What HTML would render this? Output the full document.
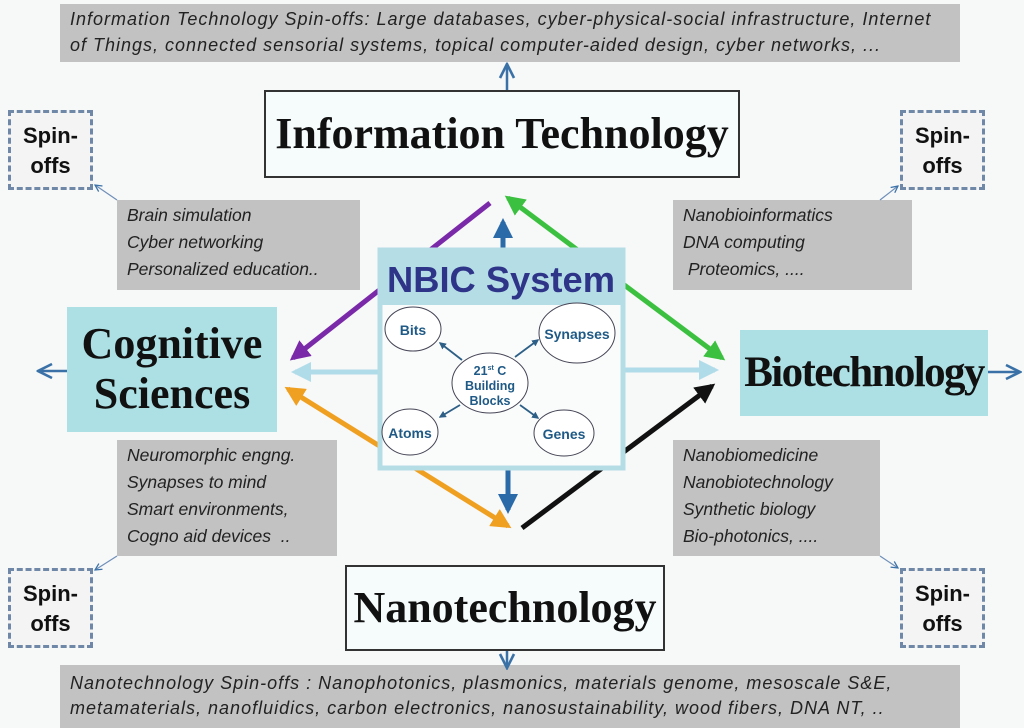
<!DOCTYPE html>
<html><head><meta charset="utf-8"><style>
body{margin:0;width:1024px;height:728px;background:#f7f8f8;position:relative;overflow:hidden;font-family:"Liberation Sans",sans-serif}
.a{position:absolute;box-sizing:border-box}
.g{background:#c2c2c2;font-style:italic;color:#222;font-size:17.5px;line-height:27px;padding:2px 10px;white-space:nowrap}
.sp{border:3px dashed #7088a8;background:#f4f4f4;font-weight:bold;font-size:22px;line-height:30px;text-align:center;padding-top:8px;color:#111}
.ser{font-family:"Liberation Serif",serif;font-weight:bold;color:#111;text-align:center;white-space:nowrap}
.c{background:#ace0e4}
</style></head><body>
<div class="a g" style="left:60px;top:4px;width:900px;height:58px;line-height:26px;font-size:18px;letter-spacing:1px">Information Technology Spin-offs: Large databases, cyber-physical-social infrastructure, Internet<br>of Things, connected sensorial systems, topical computer-aided design, cyber networks, ...</div>
<div class="a ser" style="left:264px;top:90px;width:476px;height:88px;border:2px solid #333;background:#f6fbfc;font-size:44px;line-height:84px">Information Technology</div>
<div class="a sp" style="left:8px;top:110px;width:85px;height:80px">Spin-<br>offs</div>
<div class="a sp" style="left:900px;top:110px;width:85px;height:80px">Spin-<br>offs</div>
<div class="a sp" style="left:8px;top:568px;width:85px;height:80px">Spin-<br>offs</div>
<div class="a sp" style="left:900px;top:568px;width:85px;height:80px">Spin-<br>offs</div>
<div class="a g" style="left:117px;top:200px;width:243px;height:90px">Brain simulation<br>Cyber networking<br>Personalized education..</div>
<div class="a g" style="left:673px;top:200px;width:239px;height:90px">Nanobioinformatics<br>DNA computing<br>&nbsp;Proteomics, ....</div>
<div class="a g" style="left:117px;top:440px;width:220px;height:116px">Neuromorphic engng.<br>Synapses to mind<br>Smart environments,<br>Cogno aid devices &nbsp;..</div>
<div class="a g" style="left:673px;top:440px;width:207px;height:116px">Nanobiomedicine<br>Nanobiotechnology<br>Synthetic biology<br>Bio-photonics, ....</div>
<div class="a ser c" style="left:67px;top:307px;width:210px;height:125px;font-size:44px;line-height:50px;padding-top:12px">Cognitive<br>Sciences</div>
<div class="a ser c" style="left:740px;top:330px;width:248px;height:86px;font-size:43px;line-height:86px;letter-spacing:-1.6px">Biotechnology</div>
<div class="a ser" style="left:345px;top:565px;width:320px;height:86px;border:2px solid #333;background:#f6fbfc;font-size:44px;line-height:82px">Nanotechnology</div>
<div class="a g" style="left:60px;top:665px;width:900px;height:63px;line-height:25px;padding-top:6px;font-size:18px;letter-spacing:1px">Nanotechnology Spin-offs : Nanophotonics, plasmonics, materials genome, mesoscale S&amp;E,<br>metamaterials, nanofluidics, carbon electronics, nanosustainability, wood fibers, DNA NT, ..</div>
<svg class="a" style="left:0;top:0" width="1024" height="728">
<defs>
<marker id="m" viewBox="0 0 10 10" refX="8" refY="5" markerWidth="4" markerHeight="4" orient="auto-start-reverse"><path d="M0,0L10,5L0,10z" fill="context-stroke"/></marker>
<marker id="o" viewBox="0 0 10 10" refX="9" refY="5" markerWidth="7" markerHeight="7" orient="auto-start-reverse"><path d="M1,1L9,5L1,9" fill="none" stroke="#3a72a8" stroke-width="1.5"/></marker>
</defs>
<g stroke="#3a72a8" stroke-width="2.5" fill="none">
<line x1="507" y1="90" x2="507" y2="64" marker-end="url(#o)"/>
<line x1="67" y1="371" x2="38" y2="371" marker-end="url(#o)"/>
<line x1="988" y1="372" x2="1020" y2="372" marker-end="url(#o)"/>
<line x1="507" y1="651" x2="507" y2="668" marker-end="url(#o)"/>
</g>
<g stroke="#6f8fb8" stroke-width="1.2" fill="none">
<line x1="117" y1="200" x2="95" y2="185" marker-end="url(#o)"/>
<line x1="117" y1="556" x2="95" y2="570" marker-end="url(#o)"/>
<line x1="880" y1="556" x2="898" y2="568" marker-end="url(#o)"/>
<line x1="880" y1="200" x2="898" y2="186" marker-end="url(#o)"/>
</g>
<g stroke-width="5" fill="none">
<line x1="490" y1="203" x2="293" y2="358" stroke="#7a2aa8" marker-end="url(#m)"/>
<line x1="508" y1="198" x2="722" y2="358" stroke="#3cc040" marker-end="url(#m)" marker-start="url(#m)"/>
<line x1="288" y1="389" x2="508" y2="526" stroke="#f0a020" marker-end="url(#m)" marker-start="url(#m)"/>
<line x1="522" y1="528" x2="712" y2="386" stroke="#111" marker-end="url(#m)"/>
<line x1="503" y1="248" x2="503" y2="222" stroke="#2a6aa8" marker-end="url(#m)"/>
<line x1="508" y1="470" x2="508" y2="510" stroke="#2a6aa8" marker-end="url(#m)"/>
<line x1="378" y1="372" x2="295" y2="372" stroke="#b0dbe8" marker-end="url(#m)"/>
<line x1="625" y1="370" x2="715" y2="370" stroke="#b0dbe8" marker-end="url(#m)"/>
</g>
<rect x="380" y="250" width="243" height="218" fill="#fafcfc" stroke="#b5dde6" stroke-width="5"/>
<rect x="380" y="250" width="243" height="55" fill="#b5dde6"/>
<text x="501" y="292" text-anchor="middle" font-family="Liberation Sans" font-weight="bold" font-size="36" fill="#2e3488" textLength="228" lengthAdjust="spacingAndGlyphs">NBIC System</text>
<g stroke="#445" stroke-width="1" fill="#fff">
<ellipse cx="413" cy="329" rx="28" ry="22"/><ellipse cx="577" cy="333" rx="38" ry="30"/>
<ellipse cx="490" cy="383" rx="38" ry="30"/><ellipse cx="410" cy="432" rx="28" ry="23"/><ellipse cx="564" cy="433" rx="30" ry="23"/>
</g>
<g stroke="#2e5f86" stroke-width="1.8" marker-end="url(#m)">
<line x1="462" y1="360" x2="440" y2="343"/><line x1="515" y1="357" x2="538" y2="340"/>
<line x1="460" y1="405" x2="440" y2="417"/><line x1="520" y1="405" x2="538" y2="418"/>
</g>
<g font-family="Liberation Sans" font-weight="bold" fill="#1f5a86" text-anchor="middle">
<text x="413" y="335" font-size="14">Bits</text><text x="577" y="339" font-size="14">Synapses</text>
<text x="410" y="438" font-size="14">Atoms</text><text x="564" y="439" font-size="14">Genes</text>
<text x="490" y="375" font-size="12.5">21<tspan font-size="7" dy="-5">st</tspan><tspan dy="5"> C</tspan></text>
<text x="490" y="390" font-size="12.5">Building</text><text x="490" y="405" font-size="12.5">Blocks</text>
</g>
</svg>
</body></html>
